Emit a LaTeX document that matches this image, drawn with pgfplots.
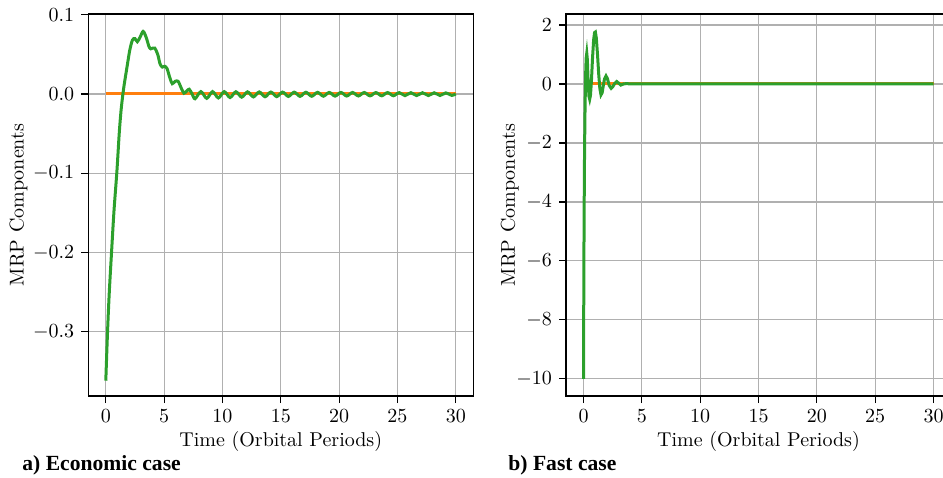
\documentclass[border=0pt]{standalone}
\usepackage{fontspec}
\usepackage{pgfplots}
\pgfplotsset{compat=1.18}
\newfontfamily\capfont{Liberation Serif}
\definecolor{mplgreen}{HTML}{2CA02C}
\definecolor{mplorange}{HTML}{FF7F0E}
\definecolor{gridgray}{HTML}{B0B0B0}
\pgfplotsset{
  mrp/.style={
    scale only axis,
    width=192.5pt, height=191pt,
    anchor=south west,
    xmin=-1.5, xmax=31.5,
    xtick={0,5,10,15,20,25,30},
    tick pos=left,
    tick align=outside,
    major tick length=3.5pt,
    tick style={black, line width=0.6pt},
    axis line style={black, line width=0.6pt},
    grid=major,
    major grid style={gridgray, line width=0.6pt},
    xlabel={Time (Orbital Periods)},
    xlabel style={yshift=2.5pt},
    ylabel={MRP Components},
    every axis plot/.append style={line width=1.5pt},
  }
}
\begin{document}
\begin{tikzpicture}
\useasboundingbox (0,0) rectangle (471.5pt,238.5pt);
\begin{axis}[mrp, at={(44.15pt,40.5pt)},
  ymin=-0.3813, ymax=0.101,
  ytick={-0.3,-0.2,-0.1,0,0.1},
  yticklabel style={/pgf/number format/.cd, fixed, fixed zerofill, precision=1},
  ylabel style={yshift=-4pt},
]
\addplot[mplorange] coordinates {(0,0) (30,0)};
\addplot[mplgreen, smooth, tension=0.5] coordinates {
(0,-0.362) (0.15,-0.300) (0.3,-0.250) (0.5,-0.198) (0.7,-0.148) (0.95,-0.098)
(1.15,-0.050) (1.3,-0.022) (1.45,-0.002) (1.6,0.014) (1.85,0.037) (2.05,0.055)
(2.28,0.068) (2.5,0.070) (2.7,0.066) (2.95,0.072) (3.2,0.079) (3.45,0.072)
(3.7,0.060) (3.85,0.057) (4.05,0.058) (4.2,0.058) (4.45,0.050) (4.65,0.038)
(4.85,0.034) (5.05,0.035) (5.25,0.032) (5.5,0.020) (5.7,0.013) (5.95,0.016)
(6.2,0.016) (6.45,0.008) (6.7,0.001) (6.95,0.004) (7.15,0.006) (7.4,0.000)
(7.65,-0.006) (8.15,0.003) (8.65,-0.0055) (9.15,0.003) (9.65,-0.005) (10.15,0.003)
(10.65,-0.0045) (11.15,0.0028) (11.65,-0.004) (12.15,0.0027) (12.65,-0.0037) (13.15,0.0026)
(13.65,-0.0035) (14.15,0.0025) (14.65,-0.0033) (15.15,0.0024) (15.65,-0.0031) (16.15,0.0023)
(16.65,-0.003) (17.15,0.0022) (17.65,-0.0029) (18.15,0.0021) (18.65,-0.0028) (19.15,0.002)
(19.65,-0.0027) (20.15,0.002) (20.65,-0.0026) (21.15,0.0019) (21.65,-0.0025) (22.15,0.0019)
(22.65,-0.0024) (23.15,0.0018) (23.65,-0.0023) (24.15,0.0018) (24.65,-0.0022) (25.15,0.0017)
(25.65,-0.0021) (26.15,0.0016) (26.65,-0.002) (27.15,0.0016) (27.65,-0.002) (28.15,0.0015)
(28.65,-0.0019) (29.15,0.0014) (29.65,-0.0018) (30,0.0)
};
\end{axis}
\begin{axis}[mrp, at={(283pt,40.5pt)},
  ymin=-10.58, ymax=2.37,
  ytick={-10,-8,-6,-4,-2,0,2},
  ylabel style={yshift=-8pt},
]
\addplot[mplorange] coordinates {(0,0) (30,0)};
\addplot[mplgreen] coordinates {
(0,-10) (0.02,-7.6) (0.05,-4.6) (0.09,-2.3) (0.13,-0.9) (0.18,0.3) (0.23,0.88)
(0.28,1.04) (0.33,0.82) (0.40,0.05) (0.47,-0.42) (0.53,-0.52) (0.6,-0.38)
(0.68,0.1) (0.77,0.85) (0.87,1.5) (0.95,1.74) (1.02,1.76) (1.1,1.55) (1.2,1.0)
(1.3,0.35) (1.4,-0.15) (1.5,-0.37) (1.6,-0.3) (1.7,-0.05) (1.8,0.17) (1.93,0.27)
(2.05,0.18) (2.2,-0.05) (2.37,-0.15) (2.5,-0.1) (2.65,0.0) (2.85,0.08) (3.0,0.03)
(3.2,-0.04) (3.45,0.0) (3.7,0.01) (4.0,0) (30,0)
};
\end{axis}
\node[anchor=base west, inner sep=0pt, font=\capfont\fontsize{10.8}{13}\selectfont\bfseries] at (11pt,3.5pt) {a) Economic case};
\node[anchor=base west, inner sep=0pt, font=\capfont\fontsize{10.8}{13}\selectfont\bfseries] at (254pt,3.5pt) {b) Fast case};
\end{tikzpicture}
\end{document}
